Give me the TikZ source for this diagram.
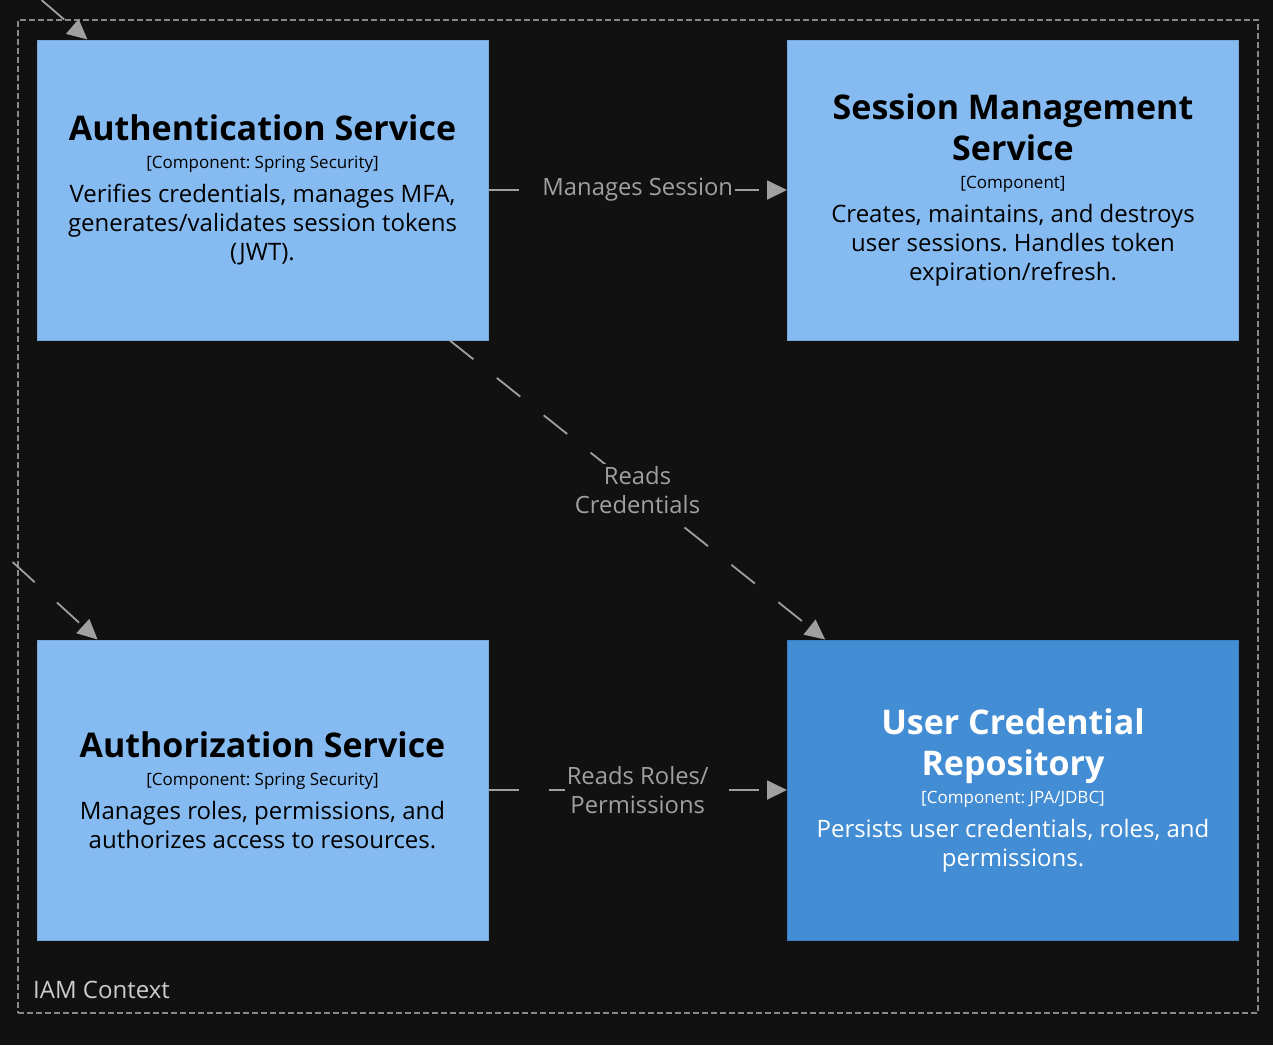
\documentclass[tikz,border=0pt]{standalone}
\usepackage{fontspec}
\setmainfont{Open Sans}
\usetikzlibrary{positioning, arrows.meta}

\definecolor{bgdark}{HTML}{111111}
\definecolor{compblue}{HTML}{85BBF0}
\definecolor{compedge}{HTML}{78A8D8}
\definecolor{dbblue}{HTML}{438DD5}
\definecolor{dbedge}{HTML}{3C7FC0}
\definecolor{relgray}{HTML}{A0A0A0}
\definecolor{bndgray}{HTML}{888888}

% sizes in pt, picture is drawn 1pt per pixel
\newcommand{\setsize}[2]{\fontsize{#1}{#2}\selectfont
  \spaceskip=\fontdimen2\font\xspaceskip=\fontdimen2\font}
\newcommand{\comptext}[3]{%
  {\setsize{34}{41}\bfseries\spaceskip=\fontdimen2\font #1\par}%
  {\setsize{17}{28}[#2]\par}%
  \vspace{5pt}%
  {\setsize{24}{29}#3\par}}

\tikzset{
  comp/.style={rectangle, fill=compblue, draw=compedge, line width=1pt,
    minimum width=451pt, minimum height=300pt, text width=446pt,
    align=center, inner sep=0pt, text=black},
  repo/.style={comp, fill=dbblue, draw=dbedge, text=white},
  rel/.style={draw=relgray, line width=1.8pt, dash pattern=on 30pt off 30pt,
    -{Triangle[length=20pt, width=19pt, fill=relgray]}},
  rellabel/.style={fill=bgdark, text=relgray, inner sep=2pt, align=center,
    font=\setsize{23.8}{29}},
  boundary/.style={draw=bndgray, line width=1.5pt, dash pattern=on 6pt off 3pt}
}

\begin{document}
\begin{tikzpicture}[x=1pt, y=-1pt, node distance=600pt and 750.5pt, on grid]
  \useasboundingbox[fill=bgdark] (0,0) rectangle (1273,1045);
  \clip (0,0) rectangle (1273,1045);

  % IAM boundary
  \node[boundary, minimum width=1240pt, minimum height=993pt] (iam) at (638,516.5) {};
  \node[anchor=west, text=white!80!black, font=\setsize{24}{28}, inner sep=0pt]
    (iamlabel) at (33,990) {IAM Context};

  \node[comp] (authn) at (262.5,190)
    {\comptext{Authentication Service}{Component: Spring Security}
      {Verifies credentials, manages MFA,\\generates/validates session tokens\\(JWT).}};
  \node[comp] (session) [right=of authn]
    {\comptext{Session Management\\Service}{Component}
      {Creates, maintains, and destroys\\user sessions. Handles token\\expiration/refresh.}};
  \node[comp] (authz) [below=of authn]
    {\comptext{Authorization Service}{Component: Spring Security}
      {Manages roles, permissions, and\\authorizes access to resources.}};
  \node[repo] (store) [right=of authz]
    {\comptext{User Credential\\Repository}{Component: JPA/JDBC}
      {Persists user credentials, roles, and\\permissions.}};

  % callers outside the picture
  \coordinate (user) at (-4,-39.1);
  \coordinate (client) at (-31.8,521.6);

  \path[rel]
  (user) edge (authn)
  (client) edge (authz)
  (authn) edge node[rellabel] {Manages Session} (session)
  (authn) edge node[rellabel] {Reads\\Credentials} (store)
  (authz) edge node[rellabel] {Reads Roles/\\Permissions} (store);
\end{tikzpicture}
\end{document}
